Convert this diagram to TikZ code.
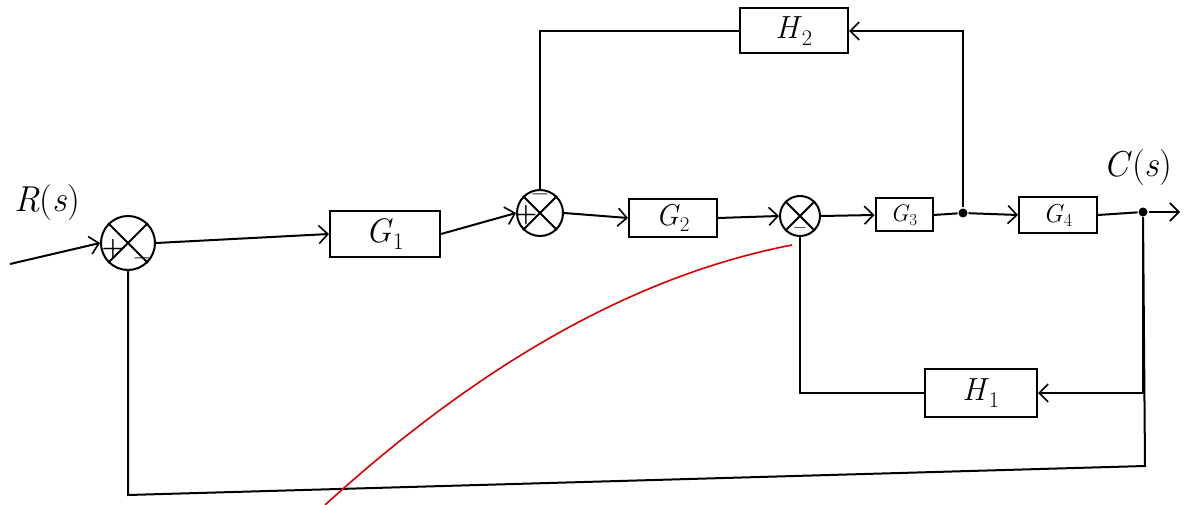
\documentclass[tikz,border=0pt]{standalone}
\usetikzlibrary{arrows.meta}
\newcommand{\blab}[2]{\textit{#1}\textsubscript{#2}}
\begin{document}
\begin{tikzpicture}[x=1pt,y=-1pt,
  line width=2pt,
  every node/.style={font=\fontsize{32}{36}\selectfont},
  blk/.style={draw,rectangle,inner sep=0pt},
  sumj/.style={draw,circle,inner sep=0pt},
  sgn/.style={font=\fontsize{26}{28}\selectfont\bfseries,inner sep=0pt},
  arr/.style={-{Straight Barb[length=9pt,width=18pt,line width=1.6pt]}},
  dot/.style={circle,fill,inner sep=0pt,minimum size=9pt}
]
\useasboundingbox (0,0) rectangle (1184,505);
% summing junctions
\node[sumj,minimum size=54pt] (s1) at (128,243) {};
\node[sumj,minimum size=46pt] (s2) at (540,213) {};
\node[sumj,minimum size=40pt] (s3) at (800,216) {};
\foreach \s in {s1,s2,s3}{
  \draw (\s.north west) -- (\s.south east);
  \draw (\s.north east) -- (\s.south west);
}
% signs
\node[sgn] (p1) at (113,249) {+};
\node[sgn] (m1) at (142,262) {--};
\node[sgn] (p2) at (526,215) {+};
\node[sgn] (m2) at (540,198) {--};
\node[sgn,font=\fontsize{20}{22}\selectfont\bfseries] (m3) at (800,231) {--};
% blocks
\node[blk,minimum width=110pt,minimum height=46pt,font=\fontsize{34}{38}\selectfont] (G1) at (385,234) {\blab{G}{1}};
\node[blk,minimum width=88pt,minimum height=38pt,font=\fontsize{30}{34}\selectfont] (G2) at (673,218) {\blab{G}{2}};
\node[blk,minimum width=57pt,minimum height=33pt,font=\fontsize{24}{28}\selectfont] (G3) at (904,215) {\blab{G}{3}};
\node[blk,minimum width=78pt,minimum height=36pt,font=\fontsize{26}{30}\selectfont] (G4) at (1058,215) {\blab{G}{4}};
\node[blk,minimum width=108pt,minimum height=45pt] (H2) at (794,31) {\blab{H}{2}};
\node[blk,minimum width=112pt,minimum height=48pt] (H1) at (981,393) {\blab{H}{1}};
% labels
\node[font=\fontsize{36}{40}\selectfont] (R) at (47,203) {\textit{R}(\textit{s})};
\node[font=\fontsize{36}{40}\selectfont] (C) at (1138,168) {\textit{C}(\textit{s})};
% coordinates
\coordinate (in) at (10,264);
\node[dot] (b1) at (963,213) {};
\node[dot] (b2) at (1143,212) {};
\coordinate (out) at (1180,212);
\coordinate (br) at (1145,466);
\coordinate (bl) at (128,495);
% forward path
\draw[arr] (in) -- (s1.west);
\draw[arr] (s1.east) -- (G1.west);
\draw[arr] (G1.east) -- (s2.west);
\draw[arr] (s2.east) -- (G2.west);
\draw[arr] (G2.east) -- (s3.west);
\draw[arr] (s3.east) -- (G3.west);
\draw (G3.east) -- (b1);
\draw[arr] (b1) -- (G4.west);
\draw (G4.east) -- (b2);
\draw[arr] (b2) -- (out);
% feedback H2
\draw[arr] (b1) |- (H2.east);
\draw (H2.west) -| (s2.north);
% feedback H1
\draw[arr] (b2) |- (H1.east);
\draw (H1.west) -| (s3.south);
% unity feedback
\draw (b2) -- (br) -- (bl) -- (s1.south);
% red annotation curve
\coordinate (rs) at (792,245);
\coordinate (re) at (325,505);
\draw[red!85!black,line width=1.6pt] (rs) .. controls (637,275) and (482,362) .. (re);
\end{tikzpicture}
\end{document}
